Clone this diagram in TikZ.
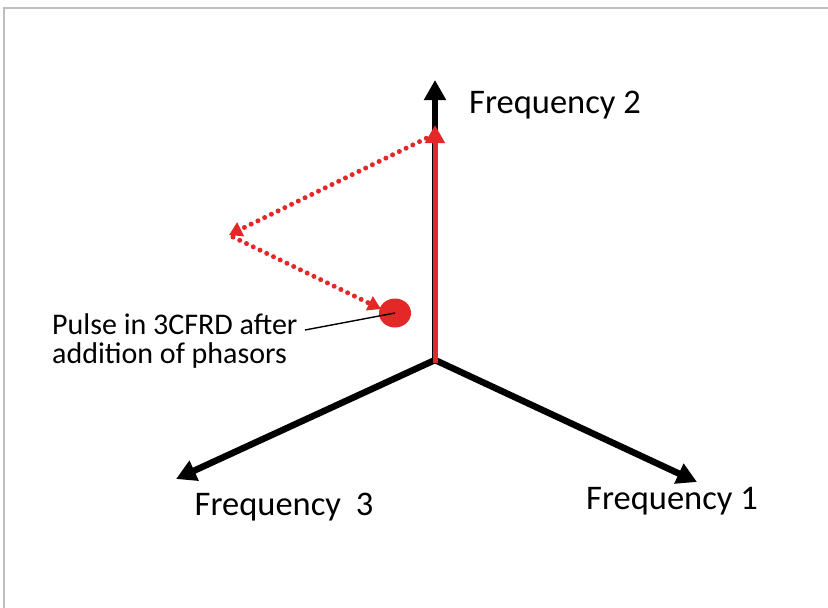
\documentclass[tikz,border=0pt]{standalone}
\usepackage{fontspec}
\setmainfont{Carlito}
\usetikzlibrary{arrows.meta,shapes.geometric}
\definecolor{pred}{RGB}{228,40,40}
\definecolor{framegray}{RGB}{190,190,190}
\tikzset{
  axis/.style={line width=6.5pt,-{Triangle[width=21pt,length=20pt]}},
  redaxis/.style={pred,line width=5pt,-{Triangle[width=19pt,length=18pt]}},
  phasor/.style={pred,line width=5pt,line cap=round,dash pattern=on 0pt off 7.5pt,-{Triangle[width=15pt,length=13pt]}},
  freqlabel/.style={inner sep=0pt,font=\fontsize{34.5}{40}\selectfont},
  pulselabel/.style={inner sep=0pt,align=left,font=\fontsize{30}{29.5}\selectfont}
}
\begin{document}
\begin{tikzpicture}[x=1pt,y=-1pt]
\useasboundingbox (0,0) rectangle (828,608);
\fill[white] (0,0) rectangle (828,608);
\draw[framegray,line width=1.5pt] (4,608) -- (4,8) -- (828,8);
% coordinates
\coordinate (O) at (435,360);
\coordinate (T2) at (435,80);
\coordinate (T3) at (176,479);
\coordinate (T1) at (697,482);
\coordinate (R) at (435,125);
\coordinate (P0) at (433,135);
\coordinate (P1) at (229,235);
\coordinate (P2) at (381,309);
% axes
\draw[axis] (O) -- (T2);
\draw[axis] (O) -- (T3);
\draw[axis] (O) -- (T1);
\draw[redaxis] ([yshift=-3pt]O) -- (R);
% phasors
\draw[phasor] (P0) -- (P1);
\draw[phasor] ([shift={(4,2)}]P1) -- (P2);
% pulse
\node[ellipse,fill=pred,minimum width=32pt,minimum height=29pt,inner sep=0pt] (pulse) at (395,313) {};
% labels
\node[freqlabel] (f2) at (555,105) {Frequency 2};
\node[freqlabel] (f3) at (284,507) {Frequency\hspace{7pt} 3};
\node[freqlabel] (f1) at (672,501) {Frequency 1};
\node[pulselabel,anchor=west] (lab) at (52,341) {Pulse in 3CFRD after\\addition of phasors};
\coordinate (L0) at (305,330);
\draw[line width=1.4pt] (L0) -- (pulse.center);
\end{tikzpicture}
\end{document}
